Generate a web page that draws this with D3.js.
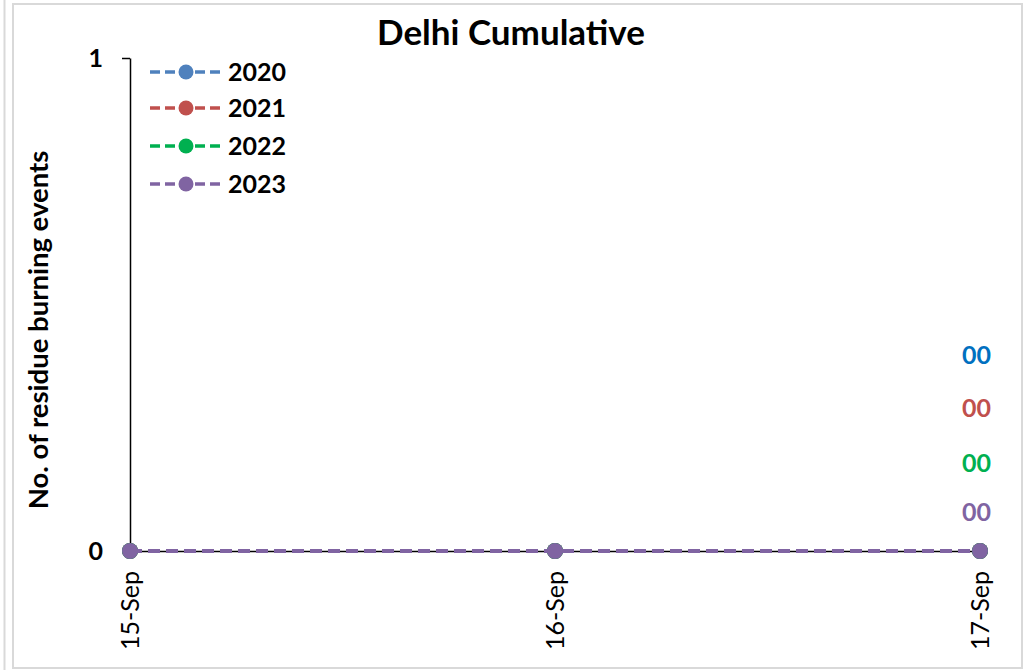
<!DOCTYPE html>
<html><head><meta charset="utf-8">
<script src="https://cdn.jsdelivr.net/npm/d3@7"></script>
<style>html,body{margin:0;padding:0;background:#fff;} svg{display:block;font-family:Lato,"Open Sans",sans-serif;}</style>
</head><body>
<svg id="c" width="1030" height="670"></svg>
<script>
const dates = ["15-Sep","16-Sep","17-Sep"];
const years = ["2020","2021","2022","2023"];
const v2020 = [0,0,0];
const v2021 = [0,0,0];
const v2022 = [0,0,0];
const v2023 = [0,0,0];
const yTicks = [0,1];
const lineColors = ["#4F81BD","#C0504D","#00B050","#8064A2"];
const labelColors = ["#0070C0","#C0504D","#00B050","#8064A2"];
const totals = ["00","00","00","00"];
const seriesVals = [v2020,v2021,v2022,v2023];

const svg = d3.select("#c");
// frame
svg.append("line").attr("x1",4.5).attr("x2",4.5).attr("y1",0).attr("y2",670).attr("stroke","#d9d9d9").attr("stroke-width",2);
svg.append("rect").attr("x",13).attr("y",4).attr("width",1009).attr("height",664).attr("fill","#fff").attr("stroke","#d9d9d9").attr("stroke-width",2);

const x = d3.scalePoint().domain(dates).range([130,980]);
const y = d3.scaleLinear().domain([0,1]).range([551,58]);

// title
svg.append("text").attr("x",511).attr("y",45).attr("text-anchor","middle").attr("font-size",35).attr("font-weight","bold").text("Delhi Cumulative");

// y axis
const ya = svg.append("g").attr("transform","translate(130,0)").call(d3.axisLeft(y).tickValues(yTicks).tickFormat(d3.format("d")).tickSize(8).tickSizeOuter(0));
ya.select(".domain").attr("stroke","#000").attr("stroke-width",1.5);
ya.selectAll(".tick line").attr("stroke","#000").attr("stroke-width",1.5);
ya.selectAll(".tick text").attr("font-size",25).attr("font-weight","bold").attr("fill","#000").attr("x",-27).attr("font-family","Lato,sans-serif");

// x axis
const xa = svg.append("g").attr("transform","translate(0,551)").call(d3.axisBottom(x).tickSize(6).tickSizeOuter(0));
xa.select(".domain").attr("stroke","#000").attr("stroke-width",1.5);
xa.selectAll(".tick line").attr("stroke","#000").attr("stroke-width",1.5);
xa.selectAll(".tick text").attr("font-size",25).attr("fill","#000").attr("font-family","Lato,sans-serif")
  .attr("transform","rotate(-90)").attr("text-anchor","end").attr("x",-20).attr("y",0).attr("dy","0.35em");

// y axis label
svg.append("text").attr("transform","translate(48,330) rotate(-90)").attr("text-anchor","middle")
  .attr("font-size",27.5).attr("font-weight","bold").text("No. of residue burning events");

// series
const line = d3.line().x((d,i)=>x(dates[i])).y(d=>y(d));
seriesVals.forEach((vals,k)=>{
  svg.append("path").datum(vals).attr("d",line).attr("fill","none").attr("stroke",lineColors[k])
    .attr("stroke-width",4).attr("stroke-dasharray","12,6");
  svg.selectAll(null).data(vals).enter().append("circle")
    .attr("cx",(d,i)=>x(dates[i])).attr("cy",d=>y(d)).attr("r",8).attr("fill",lineColors[k]);
});

// legend
years.forEach((yr,k)=>{
  const ly = [72,108,146,184][k];
  svg.append("line").attr("x1",150).attr("x2",221).attr("y1",ly).attr("y2",ly).attr("stroke",lineColors[k]).attr("stroke-width",3.5).attr("stroke-dasharray","10,5");
  svg.append("circle").attr("cx",186).attr("cy",ly).attr("r",7.5).attr("fill",lineColors[k]);
  svg.append("text").attr("x",228).attr("y",ly).attr("dy","0.36em").attr("font-size",25).attr("font-weight","bold").text(yr);
});

// totals labels
totals.forEach((t,k)=>{
  const ty = [355,408,463,512][k];
  svg.append("text").attr("x",991).attr("y",ty).attr("dy","0.36em").attr("text-anchor","end").attr("font-size",25).attr("font-weight","bold").attr("fill",labelColors[k]).text(t);
});
</script>
</body></html>
